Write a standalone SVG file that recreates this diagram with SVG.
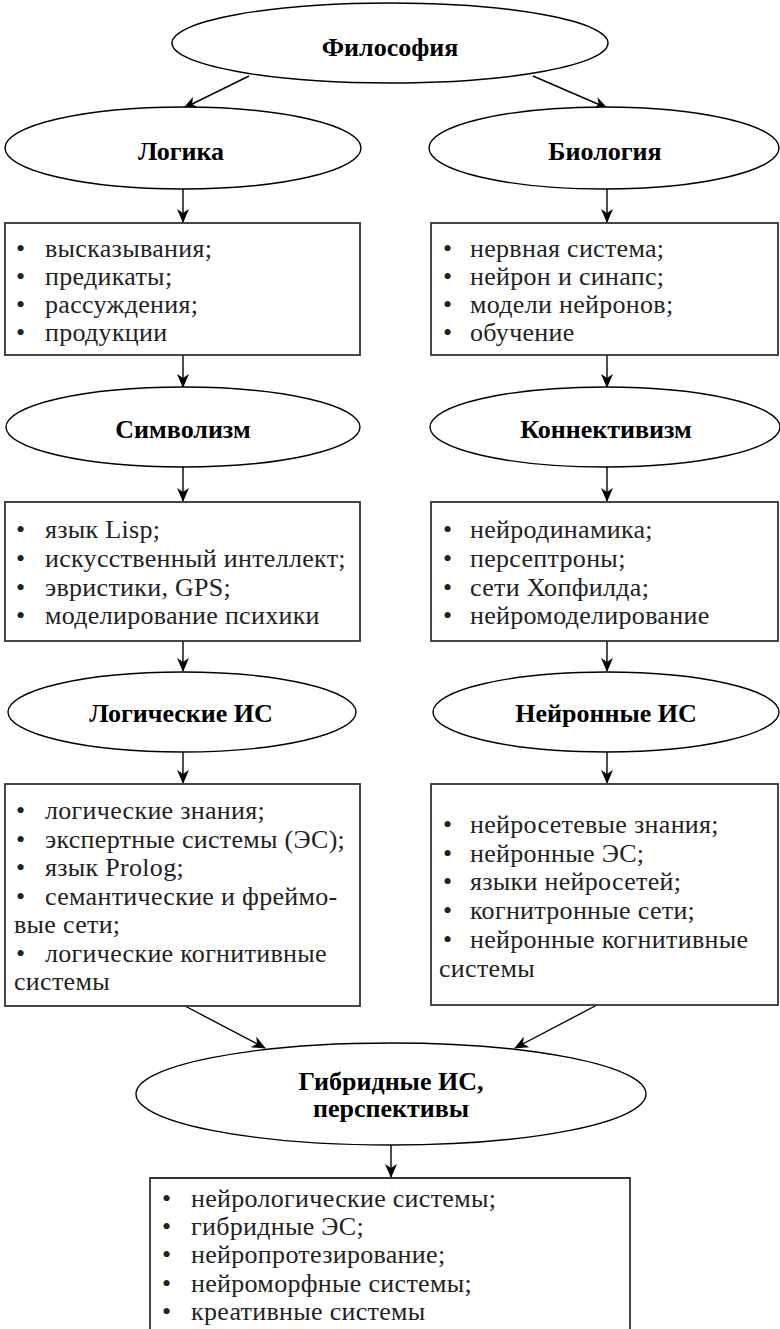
<svg xmlns="http://www.w3.org/2000/svg" width="780" height="1329" viewBox="0 0 780 1329">
<defs>
<marker id="ah" markerWidth="14" markerHeight="12" refX="13" refY="6" orient="auto" markerUnits="userSpaceOnUse">
<path d="M0,0 L14,6 L0,12 L4,6 z" fill="#000"/>
</marker>
<style>
.el{fill:#fff;stroke:#000;stroke-width:1.4}
.bx{fill:#fff;stroke:#333;stroke-width:1.8}
.h{font-family:"Liberation Serif","Times New Roman",serif;font-weight:bold;font-size:26px;fill:#000;text-anchor:middle}
.t{font-family:"Liberation Serif","Times New Roman",serif;font-size:26px;letter-spacing:0.3px;fill:#222}
.c{stroke:#000;stroke-width:1.4;fill:none;marker-end:url(#ah)}
</style>
</defs>
<rect width="780" height="1329" fill="#fff"/>
<g id="connectors">
<line class="c" x1="249" y1="76" x2="184" y2="108"/>
<line class="c" x1="533" y1="76" x2="607" y2="108"/>
<line class="c" x1="183" y1="189" x2="183" y2="222"/>
<line class="c" x1="607" y1="189" x2="607" y2="222"/>
<line class="c" x1="183" y1="355" x2="183" y2="387"/>
<line class="c" x1="607" y1="355" x2="607" y2="387"/>
<line class="c" x1="183" y1="467" x2="183" y2="501"/>
<line class="c" x1="607" y1="467" x2="607" y2="501"/>
<line class="c" x1="183" y1="641" x2="183" y2="671"/>
<line class="c" x1="607" y1="641" x2="607" y2="671"/>
<line class="c" x1="183" y1="752" x2="183" y2="783"/>
<line class="c" x1="607" y1="752" x2="607" y2="783"/>
<line class="c" x1="185" y1="1006" x2="265" y2="1048"/>
<line class="c" x1="597" y1="1005" x2="515" y2="1048"/>
<line class="c" x1="391" y1="1145" x2="391" y2="1177"/>
</g>
<g id="philosophy">
<ellipse class="el" cx="390" cy="43" rx="218" ry="40"/>
<text class="h" x="390" y="56">Философия</text>
</g>
<g id="logic">
<ellipse class="el" cx="183" cy="148" rx="178" ry="41"/>
<text class="h" x="181" y="160">Логика</text>
</g>
<g id="biology">
<ellipse class="el" cx="604" cy="148" rx="175" ry="41"/>
<text class="h" x="605" y="160">Биология</text>
</g>
<g id="logic-box">
<rect class="bx" x="5" y="223" width="355" height="132"/>
<text class="t"><tspan x="16" y="257">•</tspan><tspan x="45" y="257">высказывания;</tspan><tspan x="16" y="285">•</tspan><tspan x="45" y="285">предикаты;</tspan><tspan x="16" y="313">•</tspan><tspan x="45" y="313">рассуждения;</tspan><tspan x="16" y="341">•</tspan><tspan x="45" y="341">продукции</tspan></text>
</g>
<g id="biology-box">
<rect class="bx" x="431" y="223" width="347" height="132"/>
<text class="t"><tspan x="443" y="257">•</tspan><tspan x="470" y="257">нервная система;</tspan><tspan x="443" y="285">•</tspan><tspan x="470" y="285">нейрон и синапс;</tspan><tspan x="443" y="313">•</tspan><tspan x="470" y="313">модели нейронов;</tspan><tspan x="443" y="341">•</tspan><tspan x="470" y="341">обучение</tspan></text>
</g>
<g id="symbolism">
<ellipse class="el" cx="183" cy="427" rx="177" ry="40"/>
<text class="h" x="183" y="438">Символизм</text>
</g>
<g id="connectivism">
<ellipse class="el" cx="605" cy="427" rx="175" ry="40"/>
<text class="h" x="606" y="438">Коннективизм</text>
</g>
<g id="symbolism-box">
<rect class="bx" x="5" y="502" width="355" height="139"/>
<text class="t"><tspan x="16" y="538">•</tspan><tspan x="45" y="538">язык Lisp;</tspan><tspan x="16" y="567">•</tspan><tspan x="45" y="567">искусственный интеллект;</tspan><tspan x="16" y="596">•</tspan><tspan x="45" y="596">эвристики, GPS;</tspan><tspan x="16" y="624">•</tspan><tspan x="45" y="624">моделирование психики</tspan></text>
</g>
<g id="connectivism-box">
<rect class="bx" x="431" y="502" width="347" height="139"/>
<text class="t"><tspan x="443" y="538">•</tspan><tspan x="470" y="538">нейродинамика;</tspan><tspan x="443" y="567">•</tspan><tspan x="470" y="567">персептроны;</tspan><tspan x="443" y="596">•</tspan><tspan x="470" y="596">сети Хопфилда;</tspan><tspan x="443" y="624">•</tspan><tspan x="470" y="624">нейромоделирование</tspan></text>
</g>
<g id="logical-is">
<ellipse class="el" cx="182" cy="712" rx="174" ry="40"/>
<text class="h" x="181" y="722">Логические ИС</text>
</g>
<g id="neural-is">
<ellipse class="el" cx="606" cy="712" rx="173" ry="40"/>
<text class="h" x="606" y="722">Нейронные ИС</text>
</g>
<g id="logical-is-box">
<rect class="bx" x="5" y="784" width="355" height="222"/>
<text class="t"><tspan x="16" y="819">•</tspan><tspan x="45" y="819">логические знания;</tspan><tspan x="16" y="848">•</tspan><tspan x="45" y="848">экспертные системы (ЭС);</tspan><tspan x="16" y="876">•</tspan><tspan x="45" y="876">язык Prolog;</tspan><tspan x="16" y="905">•</tspan><tspan x="45" y="905">семантические и фреймо-</tspan><tspan x="14" y="933">вые сети;</tspan><tspan x="16" y="962">•</tspan><tspan x="45" y="962">логические когнитивные</tspan><tspan x="14" y="990">системы</tspan></text>
</g>
<g id="neural-is-box">
<rect class="bx" x="431" y="784" width="347" height="221"/>
<text class="t"><tspan x="443" y="833">•</tspan><tspan x="470" y="833">нейросетевые знания;</tspan><tspan x="443" y="862">•</tspan><tspan x="470" y="862">нейронные ЭС;</tspan><tspan x="443" y="890">•</tspan><tspan x="470" y="890">языки нейросетей;</tspan><tspan x="443" y="919">•</tspan><tspan x="470" y="919">когнитронные сети;</tspan><tspan x="443" y="948">•</tspan><tspan x="470" y="948">нейронные когнитивные</tspan><tspan x="439" y="977">системы</tspan></text>
</g>
<g id="hybrid">
<ellipse class="el" cx="391" cy="1094" rx="255" ry="51"/>
<text class="h"><tspan x="391" y="1090">Гибридные ИС,</tspan><tspan x="391" y="1117">перспективы</tspan></text>
</g>
<g id="hybrid-box">
<path class="bx" d="M150,1340 V1178 H630 V1340"/>
<text class="t"><tspan x="162" y="1207">•</tspan><tspan x="191" y="1207">нейрологические системы;</tspan><tspan x="162" y="1235">•</tspan><tspan x="191" y="1235">гибридные ЭС;</tspan><tspan x="162" y="1263">•</tspan><tspan x="191" y="1263">нейропротезирование;</tspan><tspan x="162" y="1292">•</tspan><tspan x="191" y="1292">нейроморфные системы;</tspan><tspan x="162" y="1320">•</tspan><tspan x="191" y="1320">креативные системы</tspan></text>
</g>
</svg>
